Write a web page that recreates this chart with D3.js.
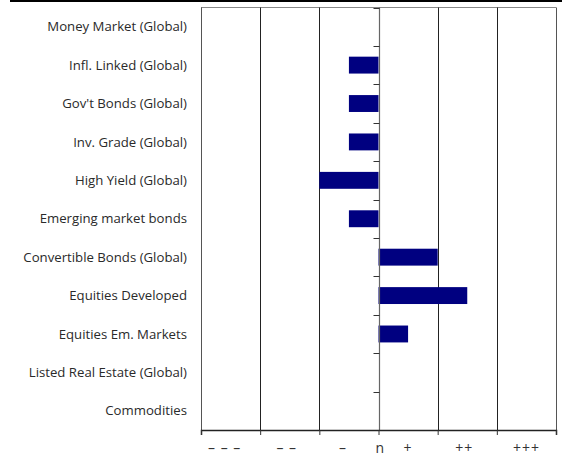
<!DOCTYPE html>
<html>
<head>
<meta charset="utf-8">
<script src="https://cdn.jsdelivr.net/npm/d3@7"></script>
<style>
  html, body { margin: 0; padding: 0; background: #fff; }
  svg { display: block; }
  text { font-family: "Open Sans", "Noto Sans", sans-serif; }
</style>
</head>
<body>
<svg id="chart" width="565" height="467"></svg>
<script>
// Asset classes, top to bottom
const categories = [
  "Money Market (Global)",
  "Infl. Linked (Global)",
  "Gov't Bonds (Global)",
  "Inv. Grade (Global)",
  "High Yield (Global)",
  "Emerging market bonds",
  "Convertible Bonds (Global)",
  "Equities Developed",
  "Equities Em. Markets",
  "Listed Real Estate (Global)",
  "Commodities"
];

// Positioning relative to neutral (n = 0)
const values = [0, -0.5, -0.5, -0.5, -1, -0.5, 1, 1.5, 0.5, 0, 0];

// Scale labels and where they sit on the scale
const tickLabels = ["– – –", "– –", "–", "n", "+", "++", "+++"];
const tickLabelPos = [-2.6, -1.55, -0.6, 0.02, 0.5, 1.45, 2.5];
const gridValues = [-3, -2, -1, 0, 1, 2, 3];

const svg = d3.select("#chart");
const plotLeft = 201, plotRight = 556, plotTop = 7.5, plotBottom = 430;

const x = d3.scaleLinear().domain([-3, 3]).range([plotLeft, plotRight]);
const y = d3.scaleBand().domain(categories).range([plotTop, plotBottom]).paddingInner(0.56).paddingOuter(0.28);
const band = d3.scaleBand().domain(categories).range([plotTop, plotBottom]);

// Header rule
svg.append("rect").attr("x", 10).attr("y", 0).attr("width", 552).attr("height", 2).attr("fill", "#000");

// Plot frame (top)
svg.append("line")
  .attr("x1", plotLeft).attr("x2", plotRight).attr("y1", plotTop).attr("y2", plotTop)
  .attr("stroke", "#888").attr("stroke-width", 1);

// Vertical gridlines
svg.append("g").selectAll("line")
  .data(gridValues.filter(d => d !== 0))
  .join("line")
  .attr("x1", d => Math.round(x(d)) + 0.5).attr("x2", d => Math.round(x(d)) + 0.5)
  .attr("y1", plotTop).attr("y2", plotBottom)
  .attr("stroke", d => (d === -3 || d === 3) ? "#555" : "#222")
  .attr("stroke-width", 1);

// Bars
svg.append("g").selectAll("rect")
  .data(categories.map((c, i) => ({ c, v: values[i] })).filter(d => d.v !== 0))
  .join("rect")
  .attr("x", d => x(Math.min(0, d.v)))
  .attr("width", d => Math.abs(x(d.v) - x(0)))
  .attr("y", d => y(d.c))
  .attr("height", y.bandwidth())
  .attr("fill", "#000080");

// Neutral axis with category boundary ticks
const zx = Math.round(x(0)) + 0.5;
svg.append("line")
  .attr("x1", zx).attr("x2", zx).attr("y1", plotTop).attr("y2", plotBottom)
  .attr("stroke", "#666").attr("stroke-width", 1.2);
svg.append("g").selectAll("line")
  .data(categories)
  .join("line")
  .attr("x1", zx - 6).attr("x2", zx)
  .attr("y1", d => Math.round(band(d)) + 0.5).attr("y2", d => Math.round(band(d)) + 0.5)
  .attr("stroke", "#333").attr("stroke-width", 1);

// Bottom axis
const xAxis = d3.axisBottom(x).tickValues(gridValues).tickSize(5).tickFormat("");
const gx = svg.append("g").attr("transform", `translate(0,${plotBottom})`).call(xAxis);
gx.select(".domain").attr("stroke", "#222").attr("stroke-width", 1.5);
gx.selectAll(".tick line").attr("stroke", "#333");

// Scale labels
svg.append("g").selectAll("text")
  .data(tickLabels)
  .join("text")
  .attr("x", (d, i) => x(tickLabelPos[i]))
  .attr("y", 453)
  .attr("text-anchor", "middle")
  .attr("font-size", 14)
  .attr("letter-spacing", d => d === "n" ? 0 : 1)
  .attr("fill", "#333")
  .text(d => d);

// Category labels
svg.append("g").selectAll("text")
  .data(categories)
  .join("text")
  .attr("x", 187)
  .attr("y", d => band(d) + band.bandwidth() / 2)
  .attr("dy", "0.35em")
  .attr("text-anchor", "end")
  .attr("font-size", 13.2)
  .attr("fill", "#2a2a2a")
  .text(d => d);
</script>
</body>
</html>
